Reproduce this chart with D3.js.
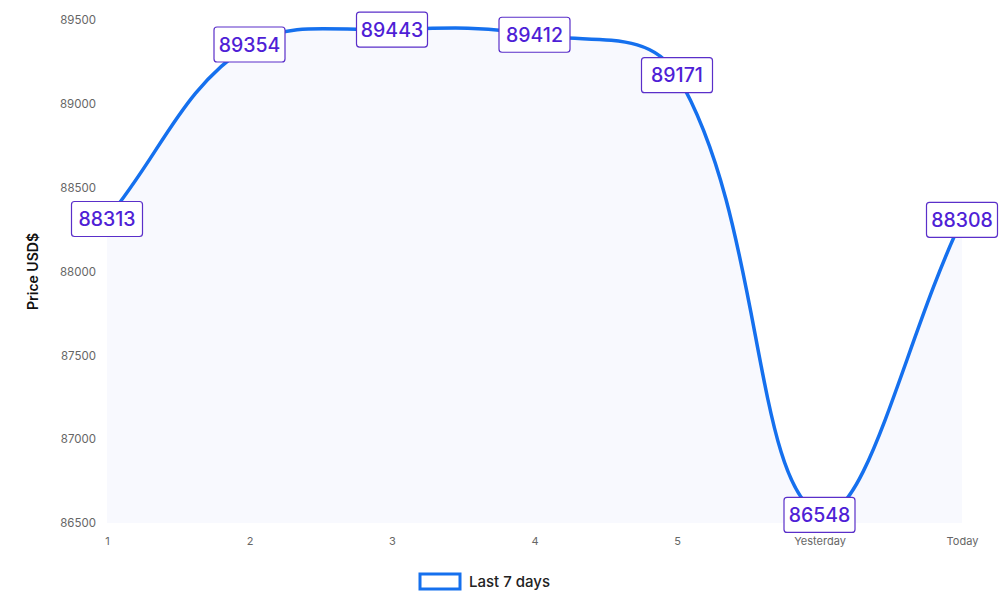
<!DOCTYPE html>
<html>
<head>
<meta charset="utf-8">
<script src="https://cdn.jsdelivr.net/npm/d3@7.9.0/dist/d3.min.js"></script>
<style>
  body { margin: 0; background: #fff; }
  svg { display: block; font-family: Inter, "Liberation Sans", Arial, sans-serif; }
</style>
</head>
<body>
<div id="chart"></div>
<script>
const days = ["1", "2", "3", "4", "5", "Yesterday", "Today"];
const prices = [88313, 89354, 89443, 89412, 89171, 86548, 88308];
const yTicks = [86500, 87000, 87500, 88000, 88500, 89000, 89500];
const seriesName = "Last 7 days";

const width = 1000, height = 600;
const margin = { top: 20, right: 38, bottom: 77, left: 107 };
const innerW = width - margin.left - margin.right;
const innerH = height - margin.top - margin.bottom;

const svg = d3.select("#chart").append("svg")
  .attr("width", width)
  .attr("height", height);

const g = svg.append("g")
  .attr("transform", `translate(${margin.left},${margin.top})`);

const x = d3.scalePoint().domain(days).range([0, innerW]);
const y = d3.scaleLinear().domain([86500, 89500]).range([innerH, 0]);

// chart.js style spline (tension 0.4)
function splinePath(pts, tension) {
  const cps = pts.map((p, i) => {
    const prev = pts[Math.max(i - 1, 0)], next = pts[Math.min(i + 1, pts.length - 1)];
    const d01 = Math.hypot(p[0] - prev[0], p[1] - prev[1]);
    const d12 = Math.hypot(next[0] - p[0], next[1] - p[1]);
    let s01 = d01 / (d01 + d12), s12 = d12 / (d01 + d12);
    s01 = isNaN(s01) ? 0 : s01;
    s12 = isNaN(s12) ? 0 : s12;
    const fa = tension * s01, fb = tension * s12;
    return {
      prev: [p[0] - fa * (next[0] - prev[0]), p[1] - fa * (next[1] - prev[1])],
      next: [p[0] + fb * (next[0] - prev[0]), p[1] + fb * (next[1] - prev[1])]
    };
  });
  const clampY = v => Math.max(0, Math.min(innerH, v));
  cps.forEach(c => { c.prev[1] = clampY(c.prev[1]); c.next[1] = clampY(c.next[1]); });
  const path = d3.path();
  path.moveTo(pts[0][0], pts[0][1]);
  for (let i = 1; i < pts.length; i++) {
    path.bezierCurveTo(cps[i - 1].next[0], cps[i - 1].next[1], cps[i].prev[0], cps[i].prev[1], pts[i][0], pts[i][1]);
  }
  return path.toString();
}

const pts = days.map((d, i) => [x(d), y(prices[i])]);
const linePath = splinePath(pts, 0.4);

// fill under curve
g.append("path")
  .attr("d", `${linePath}L${x(days[days.length - 1])},${innerH}L${x(days[0])},${innerH}Z`)
  .attr("fill", "#f8f9fe");

// y axis
const yAxis = g.append("g")
  .call(d3.axisLeft(y).tickValues(yTicks).tickSize(0).tickPadding(11).tickFormat(d3.format("d")));
yAxis.select(".domain").remove();
yAxis.selectAll("text").attr("font-size", 11.5).attr("fill", "#666")
  .attr("font-family", "Inter, sans-serif");

// x axis
const xAxis = g.append("g")
  .attr("transform", `translate(0,${innerH})`)
  .call(d3.axisBottom(x).tickSize(0).tickPadding(14));
xAxis.select(".domain").remove();
xAxis.selectAll("text").attr("font-size", 11).attr("fill", "#666")
  .attr("font-family", "Inter, sans-serif");

// y title
svg.append("text")
  .attr("transform", `translate(38,${margin.top + y(88000)}) rotate(-90)`)
  .attr("text-anchor", "middle")
  .attr("font-size", 14)
  .attr("font-weight", 600)
  .attr("fill", "#111")
  .text("Price USD$");

// line
g.append("path")
  .attr("d", linePath)
  .attr("fill", "none")
  .attr("stroke", "#1570ee")
  .attr("stroke-width", 3.5);

// value labels
const labels = g.selectAll("g.value-label")
  .data(prices)
  .join("g")
  .attr("class", "value-label")
  .attr("transform", (d, i) => `translate(${x(days[i])},${y(d)})`);

labels.append("rect")
  .attr("x", -35.5).attr("y", -17.5)
  .attr("width", 71).attr("height", 35)
  .attr("rx", 3)
  .attr("fill", "#fff")
  .attr("stroke", "#5a2fc9")
  .attr("stroke-width", 1.2);

labels.append("text")
  .attr("text-anchor", "middle")
  .attr("dy", "0.36em")
  .attr("font-size", 19.5)
  .attr("font-weight", 500)
  .attr("fill", "#4f1fd6")
  .text(d => d);

// legend
const legend = svg.append("g").attr("transform", `translate(420,574)`);
legend.append("rect")
  .attr("width", 40).attr("height", 15)
  .attr("fill", "#fff")
  .attr("stroke", "#1570ee")
  .attr("stroke-width", 3);
legend.append("text")
  .attr("x", 49).attr("y", 7.5)
  .attr("dy", "0.36em")
  .attr("font-size", 15)
  .attr("font-weight", 500)
  .attr("fill", "#222")
  .text(seriesName);
</script>
</body>
</html>
